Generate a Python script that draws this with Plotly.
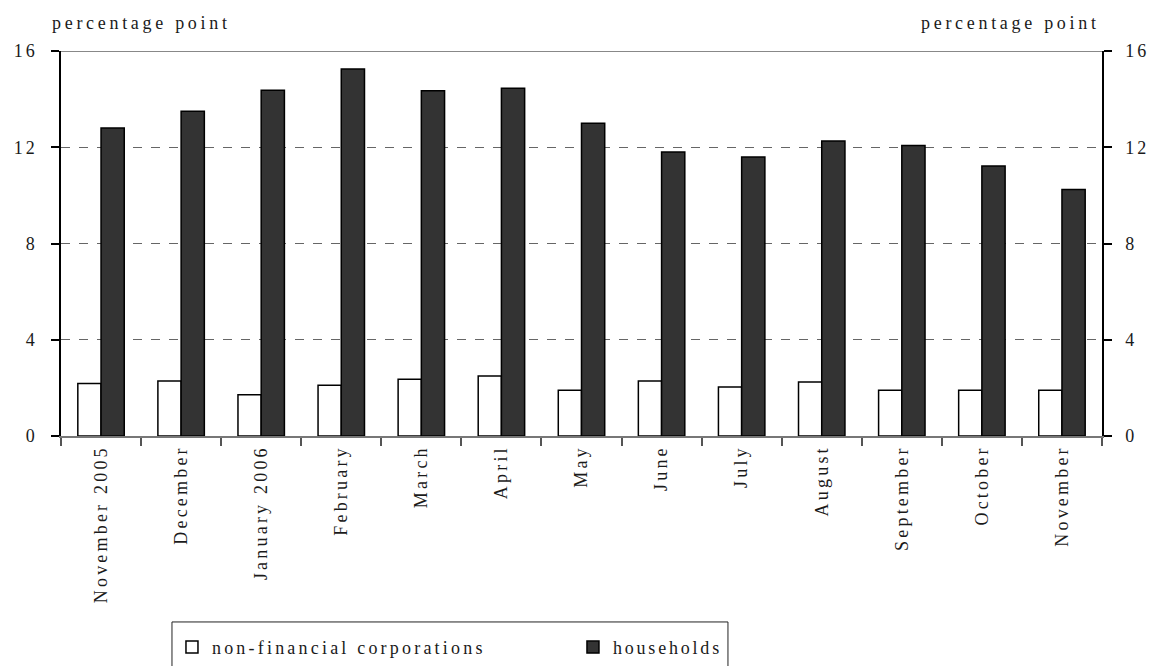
import plotly.graph_objects as go

# Monthly categories
months = ["November 2005", "December", "January 2006", "February", "March", "April",
          "May", "June", "July", "August", "September", "October", "November"]

# Percentage-point values per sector
non_financial = [2.18, 2.29, 1.71, 2.11, 2.36, 2.49, 1.90, 2.29, 2.04, 2.24, 1.90, 1.90, 1.90]
households = [12.80, 13.50, 14.37, 15.25, 14.35, 14.45, 13.00, 11.80, 11.60, 12.26, 12.07, 11.22, 10.24]

y_ticks = [0, 4, 8, 12, 16]
unit_label = "percentage point"

FONT = "Liberation Serif, Times New Roman, serif"
INK = "#1a1a1a"


def spaced(text, px):
    return f'<span style="letter-spacing:{px}px">{text}</span>'


fig = go.Figure()
fig.add_trace(go.Bar(
    x=months, y=non_financial, name=spaced("non-financial corporations", 3.2),
    marker=dict(color="white", line=dict(color="black", width=1.5)),
))
fig.add_trace(go.Bar(
    x=months, y=households, name=spaced("households", 2.8),
    marker=dict(color="#333333", line=dict(color="black", width=1.5)),
))
# Transparent copy on the secondary axis so the right-hand scale is drawn
fig.add_trace(go.Scatter(
    x=months, y=households, yaxis="y2", mode="markers",
    marker=dict(opacity=0), showlegend=False, hoverinfo="skip",
))

axis_font = dict(family=FONT, size=18, color=INK)

# Legend frame position in paper units
leg_x0, leg_x1 = 0.1066, 0.6407
leg_top = -0.483

fig.update_layout(
    width=1154, height=666,
    margin=dict(l=61, r=52, t=51, b=230, autoexpand=False),
    paper_bgcolor="white", plot_bgcolor="white",
    barmode="group", bargap=0.42, bargroupgap=0,
    font=dict(family=FONT, size=18, color=INK),
    showlegend=True,
    legend=dict(
        orientation="h", x=leg_x0, y=leg_top - 0.018, xanchor="left", yanchor="top",
        borderwidth=0, bgcolor="rgba(0,0,0,0)",
        font=dict(family=FONT, size=18, color=INK),
        entrywidth=356, entrywidthmode="pixels", itemwidth=30,
        traceorder="normal",
    ),
    xaxis=dict(
        type="category", categoryorder="array", categoryarray=months,
        range=[-0.5, len(months) - 0.5],
        tickvals=months, ticktext=[spaced(m, 3.2) for m in months],
        tickangle=-90, tickfont=axis_font,
        ticks="outside", ticklen=8, tickcolor="#555555", tickwidth=1.5,
        tickson="boundaries",
        showline=True, linecolor="#777777", linewidth=2,
        showgrid=False, zeroline=False,
    ),
    yaxis=dict(
        range=[0, 16], tickvals=y_ticks, ticktext=[spaced(str(v), 3) for v in y_ticks],
        tickfont=axis_font,
        ticks="outside", ticklen=8, tickcolor="black", tickwidth=1.5,
        ticklabelstandoff=10,
        showline=True, linecolor="black", linewidth=1.5,
        showgrid=True, gridcolor="#666666", griddash="dash", gridwidth=1,
        zeroline=False,
    ),
    yaxis2=dict(
        range=[0, 16], tickvals=y_ticks, ticktext=[spaced(str(v), 3) for v in y_ticks],
        tickfont=axis_font, overlaying="y", side="right", anchor="x",
        ticks="outside", ticklen=8, tickcolor="black", tickwidth=1.5,
        ticklabelstandoff=10,
        showline=True, linecolor="black", linewidth=1.5,
        showgrid=False, zeroline=False,
    ),
)

# Solid top border of the plotting area
fig.add_shape(type="line", xref="paper", yref="y", x0=0, x1=1, y0=16, y1=16,
              line=dict(color="#888888", width=2))

# Legend frame, running past the bottom edge of the page
fig.add_shape(type="rect", xref="paper", yref="paper",
              x0=leg_x0, x1=leg_x1, y0=leg_top, y1=-0.70,
              line=dict(color="#222222", width=1), fillcolor="rgba(0,0,0,0)")

# Unit labels above both value axes
fig.add_annotation(text=spaced(unit_label, 3.7), xref="paper", yref="paper",
                   x=-0.011, y=1.073, xanchor="left", yanchor="middle", showarrow=False,
                   font=dict(family=FONT, size=18, color=INK))
fig.add_annotation(text=spaced(unit_label, 3.7), xref="paper", yref="paper",
                   x=1.0, y=1.073, xanchor="right", yanchor="middle", showarrow=False,
                   font=dict(family=FONT, size=18, color=INK))

fig.write_html("out.html")
